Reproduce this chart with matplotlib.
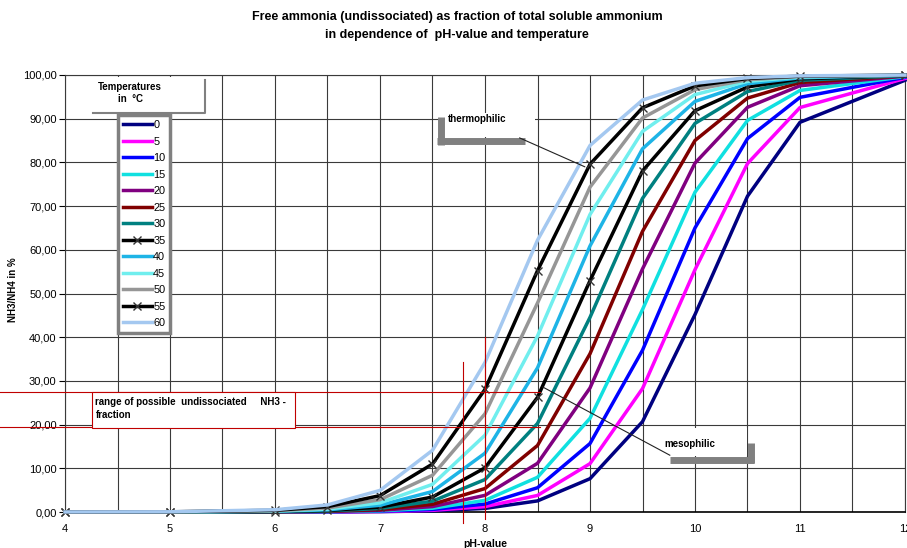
import matplotlib.pyplot as plt
from matplotlib.lines import Line2D
from matplotlib.patches import Rectangle
from matplotlib.ticker import FixedLocator, FixedFormatter

plt.rcParams['font.family'] = ['Liberation Sans', 'DejaVu Sans']

# pH values where the table has points
ph = [4, 5, 6, 6.5, 7, 7.5, 8, 8.5, 9, 9.5, 10, 10.5, 11, 12]

# free NH3 fraction in % per temperature
t0 = [0.00, 0.00, 0.01, 0.03, 0.08, 0.26, 0.82, 2.54, 7.62, 20.67, 45.19, 72.27, 89.18, 98.80]
t5 = [0.00, 0.00, 0.01, 0.04, 0.12, 0.39, 1.23, 3.79, 11.07, 28.24, 55.45, 79.74, 92.56, 99.20]
t10 = [0.00, 0.00, 0.02, 0.06, 0.19, 0.58, 1.82, 5.55, 15.67, 37.01, 65.01, 85.46, 94.89, 99.46]
t15 = [0.00, 0.00, 0.03, 0.09, 0.27, 0.86, 2.66, 7.94, 21.44, 46.32, 73.19, 89.61, 96.47, 99.63]
t20 = [0.00, 0.00, 0.04, 0.13, 0.40, 1.24, 3.81, 11.14, 28.38, 55.62, 79.85, 92.61, 97.54, 99.75]
t25 = [0.00, 0.01, 0.06, 0.18, 0.56, 1.76, 5.37, 15.22, 36.21, 64.22, 85.02, 94.72, 98.27, 99.82]
t30 = [0.00, 0.01, 0.08, 0.25, 0.80, 2.48, 7.43, 20.26, 44.54, 71.76, 88.93, 96.21, 98.77, 99.88]
t35 = [0.00, 0.01, 0.11, 0.35, 1.11, 3.43, 10.11, 26.23, 52.93, 78.05, 91.83, 97.26, 99.12, 99.91]
t40 = [0.00, 0.02, 0.16, 0.49, 1.53, 4.69, 13.46, 32.98, 60.88, 83.11, 93.96, 98.01, 99.36, 99.94]
t45 = [0.00, 0.02, 0.21, 0.67, 2.09, 6.32, 17.58, 40.27, 68.08, 87.09, 95.52, 98.54, 99.53, 99.95]
t50 = [0.00, 0.03, 0.29, 0.91, 2.82, 8.40, 22.47, 47.82, 74.34, 90.16, 96.66, 98.92, 99.66, 99.97]
t55 = [0.00, 0.04, 0.39, 1.22, 3.75, 10.98, 28.06, 55.22, 79.59, 92.50, 97.50, 99.20, 99.74, 99.97]
t60 = [0.01, 0.05, 0.52, 1.62, 4.94, 14.12, 34.21, 62.19, 83.87, 94.27, 98.11, 99.40, 99.81, 99.98]

temps = ["0", "5", "10", "15", "20", "25", "30", "35", "40", "45", "50", "55", "60"]
series = [t0, t5, t10, t15, t20, t25, t30, t35, t40, t45, t50, t55, t60]
colors = ["#000080", "#FF00FF", "#0000FF", "#10E0E0", "#800080", "#800000", "#008080",
          "#000000", "#1EB4E6", "#70EEEE", "#969696", "#000000", "#A4C8F0"]
marked = ["35", "55"]

ytick_vals = [0, 10, 20, 30, 40, 50, 60, 70, 80, 90, 100]
ytick_labels = ["0,00", "10,00", "20,00", "30,00", "40,00", "50,00",
                "60,00", "70,00", "80,00", "90,00", "100,00"]
xtick_vals = [4, 5, 6, 7, 8, 9, 10, 11, 12]

W, H = 907, 548


def fpx(x, y):
    return x / W, 1 - y / H


fig = plt.figure(figsize=(W / 100, H / 100), dpi=100)
ax = fig.add_axes([65 / W, 36 / H, 840 / W, 437 / H])

for t, vals, c in zip(temps, series, colors):
    if t in marked:
        ax.plot(ph, vals, color=c, lw=2.5, marker="x", ms=6, mew=1, mec="#333333",
                label=t, clip_on=False, zorder=3)
    else:
        ax.plot(ph, vals, color=c, lw=2.5, label=t, clip_on=False, zorder=3)

ax.set_xlim(4, 12)
ax.set_ylim(0, 100)
ax.xaxis.set_major_locator(FixedLocator(xtick_vals))
ax.xaxis.set_minor_locator(FixedLocator([v + 0.5 for v in xtick_vals[:-1]]))
ax.yaxis.set_major_locator(FixedLocator(ytick_vals))
ax.yaxis.set_major_formatter(FixedFormatter(ytick_labels))
ax.grid(which="both", color="#3a3a3a", lw=0.8)
ax.set_axisbelow(True)
ax.tick_params(axis="x", which="both", length=0, pad=9, labelsize=8)
ax.tick_params(axis="y", length=4, width=0.8, pad=2, labelsize=8)
for s in ax.spines.values():
    s.set_color("#3a3a3a")
    s.set_linewidth(0.8)
ax.spines["bottom"].set_color("black")
ax.spines["bottom"].set_linewidth(1.2)

# red range lines
for yv in [27.5, 19.5]:
    ax.plot([3.38, 8.52], [yv, yv], color="#C00000", lw=0.8, clip_on=False, zorder=4)
ax.plot([7.79, 7.79], [-2.5, 34.3], color="#C00000", lw=0.8, clip_on=False, zorder=4)
ax.plot([8.0, 8.0], [-1.5, 40], color="#C00000", lw=0.8, clip_on=False, zorder=4)

# range text box
ax.add_patch(Rectangle((4.257, 19.3), 1.93, 8.2, facecolor="white",
                       edgecolor="#C00000", lw=0.8, zorder=5))
ax.text(4.29, 25.2, "range of possible  undissociated     NH3 -", fontsize=7,
        fontweight="bold", va="center", ha="left", zorder=6)
ax.text(4.29, 22.2, "fraction", fontsize=7, fontweight="bold",
        va="center", ha="left", zorder=6)

# thermophilic callout
ax.add_patch(Rectangle((7.62, 85.8), 0.86, 5.5, facecolor="white", edgecolor="none", zorder=5))
ax.plot([7.58, 7.58], [84.0, 90.5], color="#808080", lw=5, solid_capstyle="butt", zorder=5)
ax.plot([7.54, 8.38], [84.8, 84.8], color="#808080", lw=5, solid_capstyle="butt", zorder=5)
ax.text(7.65, 89.9, "thermophilic", fontsize=7, fontweight="bold", va="center", zorder=6)
ax.plot([8.33, 8.95], [85.6, 79.0], color="#222222", lw=0.8, zorder=6)

# mesophilic callout
ax.add_patch(Rectangle((9.686, 12.8), 0.81, 6.4, facecolor="white", edgecolor="none", zorder=5))
ax.plot([9.76, 10.56], [12.0, 12.0], color="#808080", lw=5, solid_capstyle="butt", zorder=5)
ax.plot([10.53, 10.53], [11.2, 15.8], color="#808080", lw=5, solid_capstyle="butt", zorder=5)
ax.text(9.71, 15.5, "mesophilic", fontsize=7, fontweight="bold", va="center", zorder=6)
ax.plot([9.76, 8.55], [13.0, 28.6], color="#222222", lw=0.8, zorder=6)

# legend
leg = ax.legend(loc="upper left", bbox_to_anchor=(0.063, 0.908), borderaxespad=0,
                fontsize=7.8, handlelength=2.7, handletextpad=0.1, labelspacing=0.6,
                borderpad=0.45, numpoints=1, fancybox=False, framealpha=1)
leg.get_frame().set_edgecolor("#808080")
leg.get_frame().set_linewidth(2.5)
leg.set_zorder(7)

# legend title box
x0, y0 = fpx(93, 113)
x1, y1 = fpx(205, 77)
fig.add_artist(Rectangle((x0, y0), x1 - x0, y1 - y0, transform=fig.transFigure,
                         facecolor="white", edgecolor="none", zorder=5))
fig.add_artist(Line2D([x0, x1, x1], [y0, y0, fpx(0, 80)[1]], transform=fig.transFigure,
                      color="#808080", lw=1.5, zorder=6))
fig.text(*fpx(130, 87), "Temperatures", fontsize=7, fontweight="bold",
         ha="center", va="center", zorder=7)
fig.text(*fpx(130, 99), "in  °C", fontsize=7, fontweight="bold",
         ha="center", va="center", zorder=7)

# titles and axis labels
fig.text(*fpx(457, 17), "Free ammonia (undissociated) as fraction of total soluble ammonium",
         fontsize=9, fontweight="bold", ha="center", va="center")
fig.text(*fpx(457, 35), "in dependence of  pH-value and temperature",
         fontsize=9, fontweight="bold", ha="center", va="center")
fig.text(*fpx(13, 290), "NH3/NH4 in %", rotation=90, fontsize=7, fontweight="bold",
         ha="center", va="center")
fig.text(*fpx(485, 544), "pH-value", fontsize=7.5, fontweight="bold",
         ha="center", va="center")

fig.savefig("out.png", dpi=100)
